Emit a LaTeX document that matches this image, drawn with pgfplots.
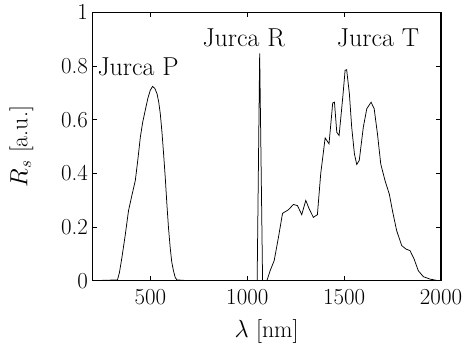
\documentclass[border=0pt]{standalone}
\usepackage{pgfplots}
\pgfplotsset{compat=1.18}
\begin{document}
\begin{tikzpicture}
\begin{axis}[
  scale only axis,
  width=348.7bp, height=268.4bp,
  xmin=200, xmax=2000, ymin=0, ymax=1,
  xtick={500,1000,1500,2000},
  ytick={0,0.2,0.4,0.6,0.8,1},
  yticklabels={0,0.2,0.4,0.6,0.8,1},
  xticklabels={500,1000,1500,2000},
  tick align=inside,
  xtick pos=both, ytick pos=both,
  major tick length=5bp,
  axis line style={line width=1.1bp},
  tick style={line width=0.6bp, black},
  tick label style={font=\fontsize{23}{27}\selectfont},
  xticklabel style={yshift=-5bp},
  yticklabel style={xshift=-1bp},
  label style={font=\fontsize{24}{28}\selectfont},
  xlabel={$\lambda$ [nm]},
  ylabel={$R_s$ [a.u.]},
  xlabel style={at={(axis description cs:0.5,0)}, anchor=base, yshift=-57bp},
  ylabel style={at={(axis description cs:0,0.5)}, anchor=base, rotate=0, yshift=65bp},
  clip=true,
]
\addplot[black, line width=0.75bp] coordinates {
(200,0) (330,0.003) (340,0.03) (353,0.087) (370,0.17) (387,0.261) (405,0.32) (422,0.373) (435,0.45) (448,0.535) (460,0.59) (473,0.634)
(487,0.68) (499,0.709) (511,0.724) (523,0.716) (534,0.697) (543,0.665) (551,0.622) (560,0.55) (568,0.473) (577,0.38) (585,0.286)
(593,0.2) (602,0.124) (610,0.07) (619,0.037) (628,0.012) (637,0.003) (700,0)
};
\addplot[black, line width=0.75bp] coordinates {
(1000,0) (1051,0) (1064,0.847) (1079,0) (1090,0)
};
\addplot[black, line width=0.75bp] coordinates {
(1079,0) (1101,0) (1118,0.037) (1139,0.075) (1161,0.162) (1182,0.251) (1212,0.264)
(1238,0.284) (1259,0.280) (1281,0.246) (1302,0.299) (1320,0.267) (1341,0.236)
(1362,0.246) (1379,0.398) (1402,0.532) (1422,0.510) (1441,0.662) (1450,0.665)
(1462,0.553) (1474,0.541) (1493,0.684) (1505,0.784) (1513,0.786) (1527,0.697)
(1539,0.572) (1553,0.473) (1565,0.433) (1578,0.448) (1599,0.572) (1617,0.641)
(1639,0.665) (1655,0.641) (1672,0.547) (1689,0.435) (1711,0.373) (1733,0.323)
(1751,0.255) (1771,0.187) (1797,0.131) (1819,0.118) (1840,0.112) (1861,0.081)
(1883,0.037) (1909,0.015) (1943,0.006) (1986,0) (2000,0)
};
\node[anchor=base west, inner sep=0, font=\fontsize{26}{30}\selectfont] at (axis cs:226,0.766) {Jurca P};
\node[anchor=base west, inner sep=0, font=\fontsize{26}{30}\selectfont] at (axis cs:768,0.872) {Jurca R};
\node[anchor=base west, inner sep=0, font=\fontsize{26}{30}\selectfont] at (axis cs:1462,0.872) {Jurca T};
\end{axis}
\pgfresetboundingbox
\path[use as bounding box] (current axis.south west) ++(-92.3bp,-68.3bp) rectangle ++(469bp,349bp);
\end{tikzpicture}
\end{document}
